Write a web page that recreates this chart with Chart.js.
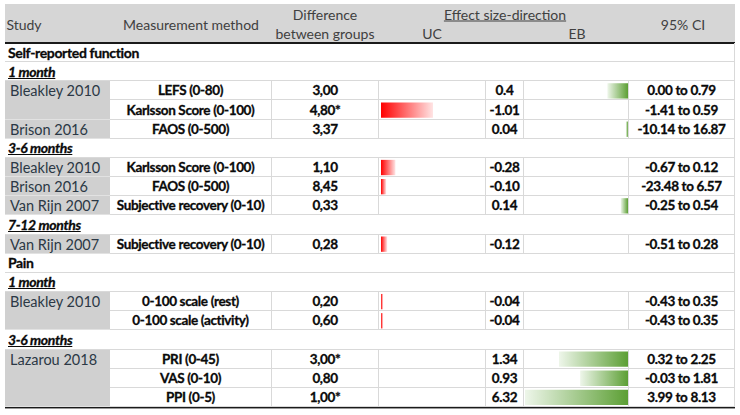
<!DOCTYPE html>
<html lang="en">
<head>
<meta charset="UTF-8">
<title>Effect size-direction</title>
<script src="https://cdn.jsdelivr.net/npm/chart.js"></script>
<style>
  html, body { margin: 0; padding: 0; background: #fff; }
  body { width: 740px; height: 415px; position: relative; overflow: hidden;
         font-family: Lato, "Open Sans", "Liberation Sans", sans-serif; }
  .cell { position: absolute; box-sizing: border-box; display: flex; align-items: center;
          justify-content: center; white-space: nowrap; color: #0a0a0a; font-weight: bold;
          font-size: 13.5px; letter-spacing: -0.35px; -webkit-text-stroke: 0.3px #0a0a0a;
          border-bottom: 1px solid #d9d9d9; }
  .line { border-right: 1px solid #d9d9d9; }
  .study { background: #d0d0d0; color: #2b3845; font-weight: normal; font-size: 14.5px;
           letter-spacing: 0; -webkit-text-stroke: 0; justify-content: flex-start;
           align-items: flex-start; padding: 1px 0 0 5px; border-bottom: 1px solid #e2e2e2; }
  .full { justify-content: flex-start; padding-left: 3px; font-size: 14px; }
  .period { font-style: italic; text-decoration: underline; }
  .head { position: absolute; color: #404040; font-size: 14px; white-space: nowrap;
          transform: translate(-50%, -50%); }
  #header { position: absolute; left: 5px; top: 4px; width: 730px; height: 38px;
            background: #d6d6d6; border-bottom: 2px solid #1a1a1a; }
  #bottom { position: absolute; left: 5px; top: 406px; width: 730px; height: 0;
            border-top: 2px solid #1a1a1a; border-bottom: 1px solid #9a9a9a; }
  canvas { position: absolute; z-index: 2; }
</style>
</head>
<body>
<div id="header"></div>
<div class="head" style="left:24px; top:24px;">Study</div>
<div class="head" style="left:191px; top:24px;">Measurement method</div>
<div class="head" style="left:325px; top:14px;">Difference</div>
<div class="head" style="left:325px; top:33px;">between groups</div>
<div class="head" style="left:505px; top:14px; text-decoration: underline;">Effect size-direction</div>
<div class="head" style="left:432px; top:33px;">UC</div>
<div class="head" style="left:577px; top:33px;">EB</div>
<div class="head" style="left:683px; top:24px;">95% CI</div>
<div id="bottom"></div>
<canvas id="ucChart" width="103" height="364" style="left:381px; top:43px;"></canvas>
<canvas id="ebChart" width="103" height="364" style="left:525px; top:43px;"></canvas>
<script>
// rows of the table, top to bottom
const rowKinds = ['group', 'period', 'data', 'data', 'data', 'period', 'data', 'data', 'data',
                  'period', 'data', 'group', 'period', 'data', 'data', 'period', 'data', 'data', 'data'];
const studyNames = ['Self-reported function', '1 month', 'Bleakley 2010', '', 'Brison 2016',
                    '3-6 months', 'Bleakley 2010', 'Brison 2016', 'Van Rijn 2007',
                    '7-12 months', 'Van Rijn 2007', 'Pain', '1 month', 'Bleakley 2010', '',
                    '3-6 months', 'Lazarou 2018', '', ''];
const methods = ['', '', 'LEFS (0-80)', 'Karlsson Score (0-100)', 'FAOS (0-500)',
                 '', 'Karlsson Score (0-100)', 'FAOS (0-500)', 'Subjective recovery (0-10)',
                 '', 'Subjective recovery (0-10)', '', '', '0-100 scale (rest)', '0-100 scale (activity)',
                 '', 'PRI (0-45)', 'VAS (0-10)', 'PPI (0-5)'];
const differences = ['', '', '3,00', '4,80*', '3,37', '', '1,10', '8,45', '0,33',
                     '', '0,28', '', '', '0,20', '0,60', '', '3,00*', '0,80', '1,00*'];
const effectText = ['', '', '0.4', '-1.01', '0.04', '', '-0.28', '-0.10', '0.14',
                    '', '-0.12', '', '', '-0.04', '-0.04', '', '1.34', '0.93', '6.32'];
const ciText = ['', '', '0.00 to 0.79', '-1.41 to 0.59', '-10.14 to 16.87', '',
                '-0.67 to 0.12', '-23.48 to 6.57', '-0.25 to 0.54', '', '-0.51 to 0.28',
                '', '', '-0.43 to 0.35', '-0.43 to 0.35', '', '0.32 to 2.25', '-0.03 to 1.81',
                '3.99 to 8.13'];

// data bar scale used by the sheet (longer bars are cut off)
const barMax = 2;

const top0 = 43, rowH = 364 / rowKinds.length;
const cols = [5, 110, 272, 379, 486, 524, 629, 735];

function addCell(cls, x0, x1, y, h, text) {
    const d = document.createElement('div');
    d.className = 'cell ' + cls;
    d.style.left = x0 + 'px';
    d.style.width = (x1 - x0) + 'px';
    d.style.top = y + 'px';
    d.style.height = h + 'px';
    d.textContent = text;
    document.body.appendChild(d);
}

rowKinds.forEach((kind, i) => {
    const y = top0 + i * rowH;
    if (kind !== 'data') {
        addCell('full line' + (kind === 'period' ? ' period' : ''), cols[0], cols[7], y, rowH, studyNames[i]);
        return;
    }
    if (studyNames[i] !== '') {
        let n = 1;
        while (i + n < rowKinds.length && rowKinds[i + n] === 'data' && studyNames[i + n] === '') n++;
        addCell('study', cols[0], cols[1], y, rowH * n, studyNames[i]);
    }
    const texts = [methods[i], differences[i], '', effectText[i], '', ciText[i]];
    texts.forEach((t, c) => addCell('line', cols[c + 1], cols[c + 2], y, rowH, t));
});

const effects = effectText.map(t => t === '' ? null : parseFloat(t));
const ucValues = effects.map(v => v !== null && v < 0 ? -v : null);
const ebValues = effects.map(v => v !== null && v > 0 ? v : null);

function barGradient(solid, pale) {
    return function (ctx) {
        const chart = ctx.chart;
        if (!chart.chartArea || ctx.raw == null) return solid;
        const xs = chart.scales.x;
        const x0 = xs.getPixelForValue(0);
        const x1 = xs.getPixelForValue(Math.min(ctx.raw, barMax));
        const g = chart.ctx.createLinearGradient(x0, 0, x1, 0);
        g.addColorStop(0, solid);
        g.addColorStop(1, pale);
        return g;
    };
}

function makeBars(id, values, solid, pale, reverse) {
    new Chart(document.getElementById(id), {
        type: 'bar',
        data: {
            labels: rowKinds.map((k, i) => methods[i] || studyNames[i]),
            datasets: [{
                data: values,
                backgroundColor: barGradient(solid, pale),
                borderWidth: 0,
                barPercentage: 0.8,
                categoryPercentage: 1
            }]
        },
        options: {
            indexAxis: 'y',
            responsive: false,
            animation: false,
            layout: { padding: 0 },
            scales: {
                x: { type: 'linear', min: 0, max: barMax, reverse: reverse, display: false },
                y: { type: 'category', display: false }
            },
            plugins: { legend: { display: false }, tooltip: { enabled: false } }
        }
    });
}

makeBars('ucChart', ucValues, '#ff0000', '#ffe4e4', false);
makeBars('ebChart', ebValues, '#5c9f34', '#eef6ea', true);
</script>
</body>
</html>
